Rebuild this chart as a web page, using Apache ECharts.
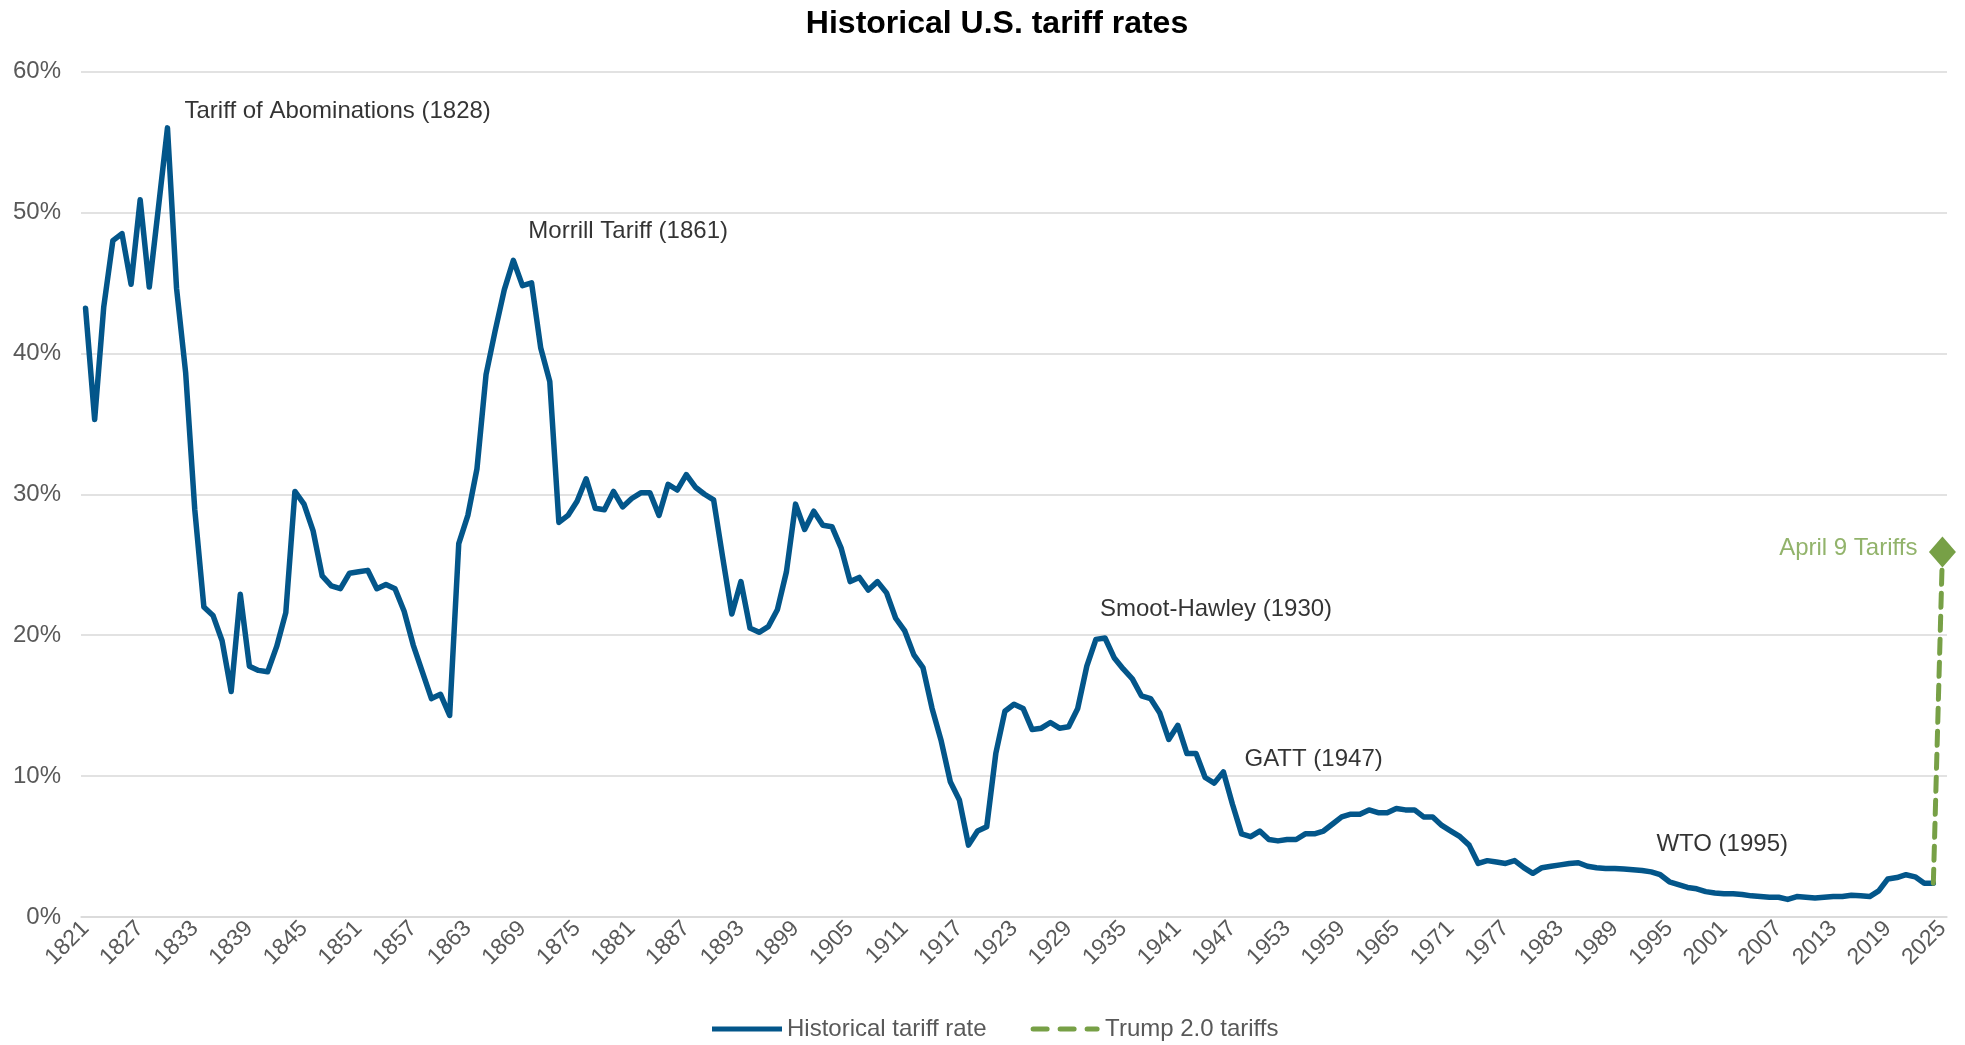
<!DOCTYPE html>
<html>
<head>
<meta charset="utf-8">
<script src="https://cdn.jsdelivr.net/npm/echarts@6/dist/echarts.min.js"></script>
<style>
html,body{margin:0;padding:0;background:#fff;}
#chart{width:1965px;height:1045px;}
</style>
</head>
<body>
<div id="chart"></div>
<script>
// ---- Data ----
const years = [];
for (let y = 1821; y <= 2025; y++) years.push(String(y));

const historicalRate = [
  43.2, 35.3, 43.3, 48.0, 48.5, 44.9, 50.9, 44.7, 50.3, 56.0, // 1821-1830
  44.6, 38.6, 28.9, 22.0, 21.4, 19.6, 16.0, 22.9, 17.8, 17.5, // 1831-1840
  17.4, 19.2, 21.6, 30.2, 29.3, 27.4, 24.2, 23.5, 23.3, 24.4, // 1841-1850
  24.5, 24.6, 23.3, 23.6, 23.3, 21.7, 19.3, 17.4, 15.5, 15.8, // 1851-1860
  14.3, 26.5, 28.5, 31.8, 38.5, 41.6, 44.5, 46.6, 44.8, 45.0, // 1861-1870
  40.4, 38.0, 28.0, 28.5, 29.5, 31.1, 29.0, 28.9, 30.2, 29.1, // 1871-1880
  29.7, 30.1, 30.1, 28.5, 30.7, 30.3, 31.4, 30.5, 30.0, 29.6, // 1881-1890
  25.5, 21.5, 23.8, 20.5, 20.2, 20.6, 21.8, 24.5, 29.3, 27.5, // 1891-1900
  28.8, 27.8, 27.7, 26.2, 23.8, 24.1, 23.2, 23.8, 23.0, 21.2, // 1901-1910
  20.3, 18.6, 17.7, 14.8, 12.5, 9.6, 8.3, 5.1, 6.1, 6.4,      // 1911-1920
  11.6, 14.6, 15.1, 14.8, 13.3, 13.4, 13.8, 13.4, 13.5, 14.8, // 1921-1930
  17.8, 19.7, 19.8, 18.4, 17.6, 16.9, 15.7, 15.5, 14.5, 12.6, // 1931-1940
  13.6, 11.6, 11.6, 9.9, 9.5, 10.3, 8.0, 5.9, 5.7, 6.1,       // 1941-1950
  5.5, 5.4, 5.5, 5.5, 5.9, 5.9, 6.1, 6.6, 7.1, 7.3,           // 1951-1960
  7.3, 7.6, 7.4, 7.4, 7.7, 7.6, 7.6, 7.1, 7.1, 6.5,           // 1961-1970
  6.1, 5.7, 5.1, 3.8, 4.0, 3.9, 3.8, 4.0, 3.5, 3.1,           // 1971-1980
  3.5, 3.6, 3.7, 3.8, 3.85, 3.6, 3.5, 3.45, 3.45, 3.4,        // 1981-1990
  3.35, 3.3, 3.2, 3.0, 2.5, 2.3, 2.1, 2.0, 1.8, 1.7,          // 1991-2000
  1.65, 1.65, 1.6, 1.5, 1.45, 1.4, 1.4, 1.25, 1.45, 1.4,      // 2001-2010
  1.35, 1.4, 1.45, 1.45, 1.55, 1.5, 1.45, 1.85, 2.7, 2.8,     // 2011-2020
  3.0, 2.85, 2.4, 2.4, null                                    // 2021-2025
];

const trumpYears = ['2024', '2025'];
const trumpValues = [2.4, 25.9];

const yTicks = [0, 10, 20, 30, 40, 50, 60];

const annotations = [
  { text: 'Tariff of Abominations (1828)', year: '1830', value: 56.0 },
  { text: 'Morrill Tariff (1861)', year: '1868', value: 46.6 },
  { text: 'Smoot-Hawley (1930)', year: '1933', value: 19.8 },
  { text: 'GATT (1947)', year: '1947', value: 8.0 },
  { text: 'WTO (1995)', year: '1995', value: 2.5 }
];
const aprilLabel = { text: 'April 9 Tariffs', year: '2025', value: 25.9 };

// ---- Styling / layout (kept separate from data) ----
const annOffsets = [[17, -16], [15, -29], [-5, -29], [12, -45], [-13, -37]];
const BLUE = '#03568A';
const GREEN = '#77A046';
const FONT = '"Liberation Sans", Arial, sans-serif';

const trumpData = years.map(y => {
  const i = trumpYears.indexOf(y);
  if (i < 0) return null;
  if (y === '2025') return { value: trumpValues[i], symbol: 'diamond', symbolSize: [27, 31] };
  return { value: trumpValues[i], symbol: 'none' };
});

const annData = annotations.map((a, i) => ({
  value: [a.year, a.value],
  label: {
    show: true, position: 'right', distance: 0, formatter: a.text,
    offset: annOffsets[i], color: '#000', fontSize: 24, fontFamily: FONT
  }
}));
annData.push({
  value: [aprilLabel.year, aprilLabel.value],
  label: {
    show: true, position: 'left', distance: 0, formatter: aprilLabel.text,
    offset: [-25, -4], color: GREEN, fontSize: 24, fontFamily: FONT
  }
});

const chart = echarts.init(document.getElementById('chart'), null, { renderer: 'canvas' });
chart.setOption({
  animation: false,
  backgroundColor: '#fff',
  textStyle: { fontFamily: FONT },
  title: {
    text: 'Historical U.S. tariff rates',
    left: 992, top: 3, textAlign: 'center',
    textStyle: { fontSize: 32, fontWeight: 'bold', color: '#000', fontFamily: FONT }
  },
  grid: { left: 81, right: 18, top: 71.5, bottom: 128, containLabel: false },
  legend: {
    top: 1012, left: 707,
    data: [
      { name: 'Historical tariff rate', icon: 'path://M0,0h70v5h-70z' },
      { name: 'Trump 2.0 tariffs', icon: 'path://M2,0h14a2.5,2.5 0 0 1 0,5h-14a2.5,2.5 0 0 1 0,-5z M29,0h14a2.5,2.5 0 0 1 0,5h-14a2.5,2.5 0 0 1 0,-5z M56,0h10a2.5,2.5 0 0 1 0,5h-10a2.5,2.5 0 0 1 0,-5z' }
    ],
    itemWidth: 70, itemHeight: 5, itemGap: 44,
    textStyle: { fontSize: 24, color: '#595959', fontFamily: FONT, padding: [0, 0, 0, 0] }
  },
  xAxis: {
    type: 'category',
    data: years,
    boundaryGap: true,
    axisLine: { show: true, lineStyle: { color: '#D9D9D9', width: 1.5 } },
    axisTick: { show: false },
    axisLabel: {
      interval: 5, rotate: 45, fontSize: 23, color: '#595959', margin: 8, fontFamily: FONT
    },
    splitLine: { show: false }
  },
  yAxis: {
    type: 'value',
    min: yTicks[0], max: yTicks[yTicks.length - 1], interval: 10,
    axisLine: { show: false },
    axisTick: { show: false },
    axisLabel: { formatter: '{value}%', fontSize: 24, color: '#595959', margin: 20, fontFamily: FONT },
    splitLine: { lineStyle: { color: '#D9D9D9', width: 1.5 } }
  },
  series: [
    {
      name: 'Historical tariff rate',
      type: 'line',
      data: historicalRate,
      symbol: 'none',
      lineStyle: { color: BLUE, width: 5.5, join: 'round', cap: 'round' },
      itemStyle: { color: BLUE },
      z: 3
    },
    {
      name: 'Trump 2.0 tariffs',
      type: 'line',
      data: trumpData,
      symbol: 'none',
      connectNulls: false,
      lineStyle: { color: GREEN, width: 5, type: [14, 9], cap: 'round' },
      itemStyle: { color: GREEN },
      z: 4
    },
    {
      name: 'annotations',
      type: 'scatter',
      data: annData,
      symbolSize: 0,
      silent: true,
      z: 5
    }
  ]
});
</script>
</body>
</html>
